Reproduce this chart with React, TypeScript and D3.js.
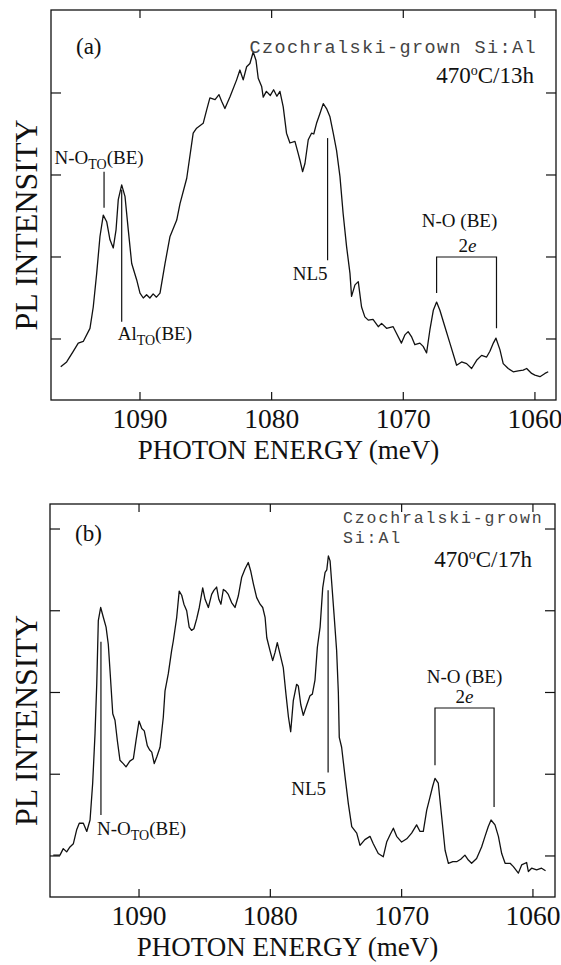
import React from 'react';
import * as d3 from 'd3';

// PL spectra, photon energy (meV) vs intensity (arb. units, tick = 1)
const energyA = [1096.02, 1095.57, 1095.07, 1094.69, 1094.31, 1093.8, 1093.55, 1093.29, 1093.04, 1092.79, 1092.53, 1092.28, 1092.03, 1091.82, 1091.65, 1091.39, 1091.14, 1090.89, 1090.63, 1090.25, 1090.0, 1089.75, 1089.5, 1089.25, 1089.0, 1088.75, 1088.48, 1088.1, 1087.72, 1087.21, 1086.96, 1086.45, 1085.96, 1085.7, 1085.2, 1084.94, 1084.69, 1084.3, 1084.0, 1083.8, 1083.55, 1083.17, 1082.66, 1082.41, 1082.16, 1081.9, 1081.65, 1081.4, 1081.19, 1081.02, 1080.76, 1080.64, 1080.4, 1080.1, 1079.85, 1079.6, 1079.37, 1079.12, 1078.87, 1078.61, 1078.23, 1077.98, 1077.85, 1077.65, 1077.47, 1077.22, 1076.97, 1076.8, 1076.59, 1076.33, 1076.08, 1075.83, 1075.57, 1075.32, 1075.07, 1074.81, 1074.57, 1074.31, 1074.05, 1073.93, 1073.67, 1073.42, 1073.17, 1072.92, 1072.66, 1072.3, 1071.9, 1071.65, 1071.27, 1070.77, 1070.52, 1070.14, 1069.88, 1069.63, 1069.38, 1069.12, 1068.74, 1068.49, 1068.23, 1067.98, 1067.72, 1067.47, 1067.22, 1066.84, 1066.46, 1065.95, 1065.57, 1065.19, 1064.81, 1064.43, 1064.05, 1063.67, 1063.42, 1063.16, 1062.96, 1062.66, 1062.41, 1062.03, 1061.65, 1061.27, 1060.89, 1060.63, 1060.25, 1060.0, 1059.62, 1059.24, 1058.99];
const intensityA = [0.66, 0.72, 0.85, 0.95, 0.97, 1.13, 1.39, 1.8, 2.25, 2.51, 2.43, 2.21, 2.11, 2.33, 2.7, 2.88, 2.74, 2.33, 1.92, 1.72, 1.56, 1.5, 1.54, 1.5, 1.55, 1.51, 1.56, 1.92, 2.25, 2.45, 2.65, 2.96, 3.51, 3.57, 3.63, 3.79, 3.94, 3.92, 3.98, 3.9, 3.81, 3.95, 4.16, 4.28, 4.16, 4.32, 4.36, 4.5, 4.4, 4.18, 4.08, 3.95, 4.02, 3.97, 4.04, 3.96, 4.02, 3.83, 3.51, 3.39, 3.41, 3.26, 3.18, 3.04, 3.14, 3.43, 3.51, 3.5, 3.63, 3.75, 3.87, 3.81, 3.71, 3.51, 3.3, 2.98, 2.53, 2.13, 1.8, 1.52, 1.66, 1.7, 1.39, 1.27, 1.23, 1.24, 1.15, 1.19, 1.13, 1.15, 1.07, 0.95, 1.05, 1.09, 1.03, 0.93, 0.95, 0.91, 0.83, 1.11, 1.35, 1.45, 1.35, 1.15, 0.95, 0.68, 0.72, 0.7, 0.64, 0.74, 0.8, 0.78, 0.85, 0.95, 1.01, 0.87, 0.7, 0.64, 0.6, 0.61, 0.62, 0.64, 0.58, 0.56, 0.54, 0.58, 0.6];

const energyB = [1096.53, 1096.02, 1095.77, 1095.51, 1095.26, 1095.0, 1094.75, 1094.55, 1094.24, 1093.98, 1093.73, 1093.53, 1093.35, 1093.22, 1093.1, 1092.92, 1092.72, 1092.51, 1092.34, 1092.21, 1092.0, 1091.83, 1091.65, 1091.45, 1091.2, 1090.99, 1090.7, 1090.43, 1090.23, 1090.0, 1089.79, 1089.6, 1089.37, 1089.2, 1089.03, 1088.84, 1088.65, 1088.4, 1088.15, 1088.02, 1087.77, 1087.52, 1087.39, 1087.13, 1086.94, 1086.75, 1086.58, 1086.37, 1086.18, 1086.0, 1085.82, 1085.61, 1085.41, 1085.15, 1084.97, 1084.72, 1084.47, 1084.3, 1084.09, 1083.92, 1083.76, 1083.58, 1083.4, 1083.2, 1082.95, 1082.69, 1082.44, 1082.18, 1081.93, 1081.68, 1081.5, 1081.29, 1081.04, 1080.78, 1080.58, 1080.4, 1080.27, 1080.02, 1079.82, 1079.64, 1079.47, 1079.26, 1079.01, 1078.81, 1078.62, 1078.45, 1078.25, 1078.0, 1077.87, 1077.68, 1077.49, 1077.24, 1076.98, 1076.8, 1076.6, 1076.42, 1076.21, 1076.01, 1075.83, 1075.7, 1075.58, 1075.45, 1075.32, 1075.15, 1074.95, 1074.82, 1074.75, 1074.57, 1074.31, 1074.06, 1073.8, 1073.42, 1073.17, 1072.8, 1072.41, 1072.16, 1071.78, 1071.4, 1071.14, 1070.88, 1070.63, 1070.38, 1070.0, 1069.61, 1069.24, 1068.86, 1068.6, 1068.35, 1068.09, 1067.84, 1067.64, 1067.46, 1067.21, 1066.95, 1066.69, 1066.44, 1066.1, 1065.81, 1065.5, 1065.18, 1064.92, 1064.67, 1064.29, 1063.91, 1063.65, 1063.4, 1063.19, 1062.89, 1062.63, 1062.38, 1062.12, 1061.74, 1061.49, 1061.11, 1060.86, 1060.48, 1060.35, 1060.1, 1059.72, 1059.34, 1059.04];
const intensityB = [1.01, 1.01, 1.09, 1.05, 1.11, 1.15, 1.32, 1.4, 1.4, 1.3, 1.44, 1.89, 2.5, 3.1, 3.88, 4.04, 3.92, 3.8, 3.59, 3.27, 2.74, 2.66, 2.41, 2.17, 2.13, 2.09, 2.16, 2.19, 2.41, 2.65, 2.56, 2.53, 2.35, 2.3, 2.27, 2.13, 2.21, 2.33, 2.7, 3.02, 3.23, 3.51, 3.63, 3.92, 4.24, 4.19, 4.08, 4.0, 3.8, 3.76, 3.78, 3.9, 4.04, 4.28, 4.14, 4.04, 4.2, 4.25, 4.29, 4.14, 4.08, 4.26, 4.24, 4.2, 4.1, 4.04, 4.18, 4.41, 4.51, 4.59, 4.49, 4.33, 4.16, 4.08, 4.04, 3.92, 3.67, 3.51, 3.39, 3.49, 3.61, 3.47, 3.3, 2.98, 2.7, 2.52, 2.9, 3.1, 3.08, 2.85, 2.72, 2.84, 2.96, 2.98, 3.15, 3.55, 3.8, 4.28, 4.47, 4.5, 4.67, 4.61, 4.33, 3.96, 3.51, 3.0, 2.45, 2.33, 1.97, 1.64, 1.36, 1.28, 1.13, 1.2, 1.24, 1.15, 1.03, 0.99, 1.17, 1.26, 1.34, 1.24, 1.17, 1.21, 1.28, 1.38, 1.3, 1.3, 1.56, 1.72, 1.85, 1.95, 1.89, 1.48, 1.07, 0.91, 0.93, 0.93, 0.96, 1.01, 0.95, 0.91, 0.97, 1.11, 1.24, 1.36, 1.44, 1.38, 1.24, 1.03, 0.91, 0.91, 0.87, 0.79, 0.89, 0.92, 0.81, 0.85, 0.83, 0.85, 0.82];

const energyTicks = [1090, 1080, 1070, 1060];
const intensityTicksA = [1, 2, 3, 4];
const intensityTicksB = [1, 2, 3, 4, 5];

// label lines: energy, top and bottom intensity of the drop line
const linesA = [
  { e: 1092.73, v0: 3.04, v1: 2.6 },
  { e: 1091.39, v0: 2.82, v1: 1.21 },
  { e: 1075.75, v0: 3.45, v1: 1.96 },
];
const bracketA = { e0: 1067.47, e1: 1062.92, top: 2.0, b0: 1.56, b1: 1.13 };
const linesB = [
  { e: 1092.9, v0: 3.62, v1: 1.5 },
  { e: 1075.6, v0: 4.25, v1: 2.02 },
];
const bracketB = { e0: 1067.46, e1: 1062.96, top: 2.81, b0: 2.11, b1: 1.6 };

const serif = 'Liberation Serif, Times New Roman, serif';
const mono = 'Liberation Mono, Courier New, monospace';

type Panel = {
  left: number; right: number; top: number; bottom: number;
  xDomain: [number, number]; yDomain: [number, number];
  energy: number[]; intensity: number[]; yTicks: number[];
};

function Frame({ p, children }: { p: Panel; children: (x: any, y: any) => React.ReactNode }) {
  const x = d3.scaleLinear().domain(p.xDomain).range([p.left, p.right]);
  const y = d3.scaleLinear().domain(p.yDomain).range([p.bottom, p.top]);
  const line = d3.line<number>().x((_, i) => x(p.energy[i])).y((d) => y(d));
  const mid = (p.left + p.right) / 2;
  return (
    <g>
      <rect x={p.left} y={p.top} width={p.right - p.left} height={p.bottom - p.top} fill="none" stroke="#111" strokeWidth={1.3} />
      {energyTicks.map((t) => (
        <g key={t}>
          <line x1={x(t)} x2={x(t)} y1={p.bottom} y2={p.bottom - 8} stroke="#111" strokeWidth={1.2} />
          <line x1={x(t)} x2={x(t)} y1={p.top} y2={p.top + 8} stroke="#111" strokeWidth={1.2} />
          <text x={x(t)} y={p.bottom + 28} textAnchor="middle" fontFamily={serif} fontSize={27.5} fill="#111">{t}</text>
        </g>
      ))}
      {p.yTicks.map((t) => (
        <g key={t}>
          <line x1={p.left} x2={p.left + 10} y1={y(t)} y2={y(t)} stroke="#111" strokeWidth={1.2} />
          <line x1={p.right} x2={p.right - 10} y1={y(t)} y2={y(t)} stroke="#111" strokeWidth={1.2} />
        </g>
      ))}
      <text x={mid - 15} y={p.bottom + 59} textAnchor="middle" fontFamily={serif} fontSize={27} fill="#111">PHOTON ENERGY (meV)</text>
      <text transform={`translate(37,${(p.top + p.bottom) / 2 + 20}) rotate(-90)`} textAnchor="middle" fontFamily={serif} fontSize={32} fill="#111">PL INTENSITY</text>
      <path d={line(p.intensity) || ''} fill="none" stroke="#111" strokeWidth={1.3} strokeLinejoin="round" />
      {children(x, y)}
    </g>
  );
}

function Sub({ main, sub, tail }: { main: string; sub: string; tail: string }) {
  return (
    <>
      {main}
      <tspan dy={5} fontSize={14}>{sub}</tspan>
      <tspan dy={-5}>{tail}</tspan>
    </>
  );
}

export default function App() {
  const panelA: Panel = {
    left: 51, right: 556, top: 10, bottom: 400,
    xDomain: [1096.76, 1058.4], yDomain: [0.256, 5.012],
    energy: energyA, intensity: intensityA, yTicks: intensityTicksA,
  };
  const panelB: Panel = {
    left: 50, right: 555, top: 504, bottom: 897,
    xDomain: [1096.78, 1058.32], yDomain: [0.498, 5.306],
    energy: energyB, intensity: intensityB, yTicks: intensityTicksB,
  };
  const s = { stroke: '#111', strokeWidth: 1.2 };
  return (
    <svg width={561} height={965} style={{ position: 'absolute', left: 0, top: 0, background: '#fff' }}>
      <Frame p={panelA}>
        {(x, y) => (
          <g fontFamily={serif} fill="#111">
            {linesA.map((l, i) => (
              <line key={i} x1={x(l.e)} x2={x(l.e)} y1={y(l.v0)} y2={y(l.v1)} {...s} />
            ))}
            <path d={`M${x(bracketA.e0)},${y(bracketA.b0)}V${y(bracketA.top)}H${x(bracketA.e1)}V${y(bracketA.b1)}`} fill="none" {...s} />
            <text x={76} y={54} fontSize={23}>(a)</text>
            <text x={537} y={53} textAnchor="end" fontFamily={mono} fontSize={18.5} letterSpacing={1.4} fill="#444">Czochralski-grown Si:Al</text>
            <text x={534} y={83} textAnchor="end" fontSize={23}>470<tspan dy={-8} fontSize={14}>o</tspan><tspan dy={8}>C/13h</tspan></text>
            <text x={x(linesA[0].e) - 5} y={y(linesA[0].v0) - 8} textAnchor="middle" fontSize={19}><Sub main="N-O" sub="TO" tail="(BE)" /></text>
            <text x={x(linesA[1].e) - 4} y={y(linesA[1].v1) + 18} fontSize={19}><Sub main="Al" sub="TO" tail="(BE)" /></text>
            <text x={x(linesA[2].e)} y={y(linesA[2].v1) + 20} textAnchor="end" fontSize={19}>NL5</text>
            <text x={(x(bracketA.e0) + x(bracketA.e1)) / 2 + 1} y={y(bracketA.top) - 5} textAnchor="middle" fontSize={19}>2<tspan fontStyle="italic">e</tspan></text>
            <text x={(x(bracketA.e0) + x(bracketA.e1)) / 2 - 7} y={y(bracketA.top) - 30} textAnchor="middle" fontSize={19}>N-O (BE)</text>
          </g>
        )}
      </Frame>
      <Frame p={panelB}>
        {(x, y) => (
          <g fontFamily={serif} fill="#111">
            {linesB.map((l, i) => (
              <line key={i} x1={x(l.e)} x2={x(l.e)} y1={y(l.v0)} y2={y(l.v1)} {...s} />
            ))}
            <path d={`M${x(bracketB.e0)},${y(bracketB.b0)}V${y(bracketB.top)}H${x(bracketB.e1)}V${y(bracketB.b1)}`} fill="none" {...s} />
            <text x={75} y={541} fontSize={23}>(b)</text>
            <text x={343} y={523} fontFamily={mono} fontSize={16.5} letterSpacing={1.9} fill="#444">Czochralski-grown</text>
            <text x={343} y={543} fontFamily={mono} fontSize={16.5} letterSpacing={1.9} fill="#444">Si:Al</text>
            <text x={532} y={567} textAnchor="end" fontSize={23}>470<tspan dy={-8} fontSize={14}>o</tspan><tspan dy={8}>C/17h</tspan></text>
            <text x={x(linesB[0].e) - 4} y={y(linesB[0].v1) + 20} fontSize={19}><Sub main="N-O" sub="TO" tail="(BE)" /></text>
            <text x={x(linesB[1].e) - 2} y={y(linesB[1].v1) + 22} textAnchor="end" fontSize={19}>NL5</text>
            <text x={(x(bracketB.e0) + x(bracketB.e1)) / 2} y={y(bracketB.top) - 5} textAnchor="middle" fontSize={19}>2<tspan fontStyle="italic">e</tspan></text>
            <text x={(x(bracketB.e0) + x(bracketB.e1)) / 2} y={y(bracketB.top) - 25} textAnchor="middle" fontSize={19}>N-O (BE)</text>
          </g>
        )}
      </Frame>
    </svg>
  );
}
